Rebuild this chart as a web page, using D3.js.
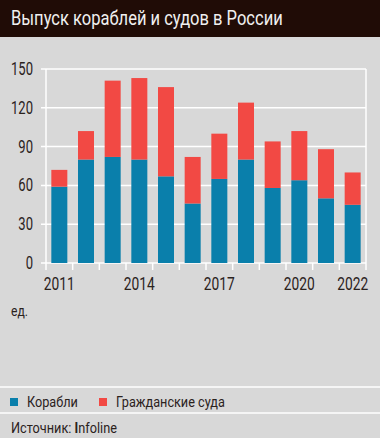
<!DOCTYPE html>
<html><head><meta charset="utf-8">
<script src="https://cdn.jsdelivr.net/npm/d3@7"></script>
<style>
html,body{margin:0;padding:0;background:#d8d8d8;}
svg{display:block;font-family:Roboto,"DejaVu Sans",sans-serif;}
</style></head>
<body>
<svg id="c" width="380" height="438"></svg>
<script>
const years = [2011,2012,2013,2014,2015,2016,2017,2018,2019,2020,2021,2022];
const ships = [59,80,82,80,67,46,65,80,58,64,50,45];
const civil = [13,22,59,63,69,36,35,44,36,38,38,25];
const yTicks = [0,30,60,90,120,150];
const xLabels = [2011,2014,2017,2020,2022];
const seriesNames = ["Корабли","Гражданские суда"];
const colors = ["#0a7fab","#f24944"];

const svg = d3.select("#c");
const W=380,H=438;
const TXT="#2b221d";

function condense(sel, k){
  sel.each(function(){
    const t=d3.select(this);
    const x=+t.attr("x"), yy=+t.attr("y");
    t.attr("transform",`translate(${x},${yy}) scale(${k},1)`).attr("x",0).attr("y",0);
  });
}
function factorFor(str, size, weight, target){
  const t=svg.append("text").attr("font-size",size).attr("font-weight",weight||"normal").text(str);
  const w=t.node().getComputedTextLength(); t.remove();
  return target/w;
}

svg.append("rect").attr("width",W).attr("height",H).attr("fill","#d8d8d8");
svg.append("rect").attr("width",W).attr("height",37).attr("fill","#200c06");
const title = svg.append("text").attr("x",11).attr("y",25).attr("fill","#f0f0f0")
  .attr("font-size",20).text("Выпуск кораблей и судов в России");
condense(title, factorFor("Выпуск кораблей и судов в России",20,null,272));

const x = d3.scaleBand().domain(years).range([46,366]).paddingInner(0.4).paddingOuter(0.2);
const y = d3.scaleLinear().domain([0,150]).range([263,69]);

const g = svg.append("g");
g.selectAll("line.grid").data(yTicks).join("line")
  .attr("x1",41).attr("x2",366).attr("y1",d=>y(d)).attr("y2",d=>y(d))
  .attr("stroke","#fff").attr("stroke-width",1.5);
g.append("line").attr("x1",46).attr("x2",46).attr("y1",y(150)).attr("y2",y(0)+7).attr("stroke","#fff").attr("stroke-width",1.5);
g.append("line").attr("x1",366).attr("x2",366).attr("y1",y(150)).attr("y2",y(0)+7).attr("stroke","#fff").attr("stroke-width",1.5);
const step = x.step();
g.selectAll("line.xt").data(years.slice(1)).join("line")
  .attr("x1",d=>x(d)-x.paddingInner()*step/2).attr("x2",d=>x(d)-x.paddingInner()*step/2)
  .attr("y1",y(0)).attr("y2",y(0)+7).attr("stroke","#fff").attr("stroke-width",1.5);

const yl = g.selectAll("text.yl").data(yTicks).join("text")
  .attr("x",33).attr("y",d=>y(d)+6).attr("text-anchor","end")
  .attr("font-size",17.5).attr("fill",TXT).text(d=>d);
condense(yl, factorFor("150",17.5,null,22));

const data = years.map((yr,i)=>({year:yr,ships:ships[i],civil:civil[i]}));
const stack = d3.stack().keys(["ships","civil"])(data);
svg.append("g").selectAll("g").data(stack).join("g").attr("fill",(d,i)=>colors[i])
  .selectAll("rect").data(d=>d).join("rect")
  .attr("x",d=>x(d.data.year)).attr("width",x.bandwidth())
  .attr("y",d=>y(d[1])).attr("height",d=>y(d[0])-y(d[1]));

const xl = svg.append("g").selectAll("text").data(xLabels).join("text")
  .attr("x",d=>x(d)+x.bandwidth()/2).attr("y",289.5).attr("text-anchor","middle")
  .attr("font-size",17.5).attr("fill",TXT).text(d=>d);
condense(xl, factorFor("2011",17.5,null,31));

const ed = svg.append("text").attr("x",11).attr("y",316).attr("font-size",14).attr("fill",TXT).text("ед.");
condense(ed, factorFor("ед.",14,null,17));

svg.append("line").attr("x1",0).attr("x2",W).attr("y1",387).attr("y2",387).attr("stroke","#fff").attr("stroke-width",1.5);
svg.append("line").attr("x1",0).attr("x2",W).attr("y1",413).attr("y2",413).attr("stroke","#fff").attr("stroke-width",1.5);

const legX=[10,99];
const lg = svg.append("g").selectAll("g").data(seriesNames).join("g")
  .attr("transform",(d,i)=>`translate(${legX[i]},0)`);
lg.append("rect").attr("x",0).attr("y",398).attr("width",8).attr("height",8).attr("fill",(d,i)=>colors[i]);
const lt = lg.append("text").attr("x",17).attr("y",407).attr("font-size",15).attr("fill",TXT).text(d=>d);
condense(lt, factorFor("Корабли",15,null,51));

const src = svg.append("text").attr("x",11).attr("y",433).attr("font-size",15.5).attr("fill",TXT);
src.append("tspan").text("Источник: ");
src.append("tspan").attr("font-weight","bold").text("I");
src.append("tspan").text("nfoline");
condense(src, 106/src.node().getComputedTextLength());
</script>
</body></html>
